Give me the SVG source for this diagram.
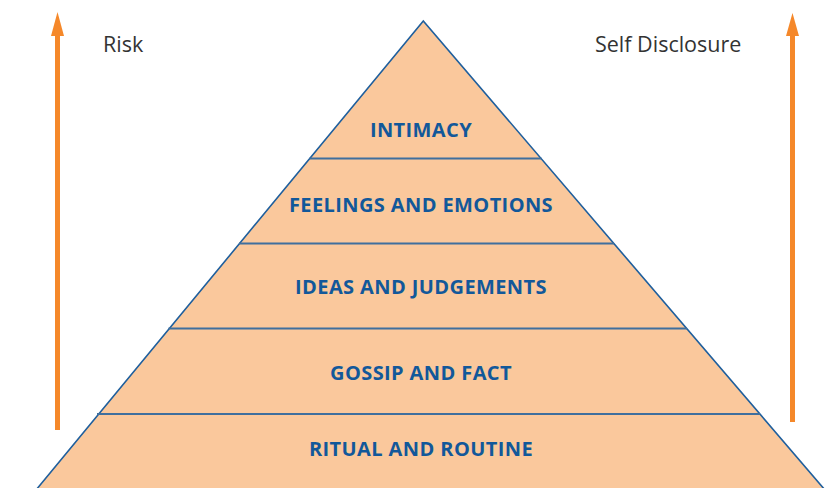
<svg xmlns="http://www.w3.org/2000/svg" width="835" height="488" viewBox="0 0 835 488">
  <style>
    .tier { fill: #fac89c; stroke: none; }
    .edge { fill: none; stroke: #1f5f9d; stroke-width: 1.6; }
    .divider { stroke: #3f6f9e; stroke-width: 2; }
    .label { font-family: "Open Sans", "Liberation Sans", sans-serif; font-weight: bold; font-size: 20px; letter-spacing: 0.4px; fill: #12589a; text-anchor: middle; }
    .side { font-family: "Open Sans", "Liberation Sans", sans-serif; font-size: 21.5px; fill: #333333; }
    .axis { stroke: #f5882a; stroke-width: 5; fill: none; }
    .tip { fill: #f5882a; }
  </style>

  <!-- pyramid body -->
  <g id="pyramid">
    <polygon class="tier" points="423.3,21 36,490 825,490"/>
    <polyline class="edge" points="36,490 423.3,21 825,490"/>
  </g>

  <!-- tier boundaries and the two rising axes -->
  <g id="connectors">
    <line class="divider" x1="309.5" y1="158.5" x2="541.5" y2="158.5"/>
    <line class="divider" x1="239" y1="243.5" x2="614" y2="243.5"/>
    <line class="divider" x1="168.5" y1="328.5" x2="687" y2="328.5"/>
    <line class="divider" x1="97" y1="414" x2="760" y2="414"/>
    <line class="axis" x1="57.5" y1="430" x2="57.5" y2="34"/>
    <line class="axis" x1="792.5" y1="422" x2="792.5" y2="34"/>
    <path class="tip" d="M57.5 12 L64 36 L51 36 Z"/>
    <path class="tip" d="M792.5 13 L799 36 L786 36 Z"/>
  </g>

  <g id="tier-intimacy"><text class="label" x="421" y="137">INTIMACY</text></g>
  <g id="tier-feelings"><text class="label" x="421" y="211.5">FEELINGS AND EMOTIONS</text></g>
  <g id="tier-ideas"><text class="label" x="421" y="294">IDEAS AND JUDGEMENTS</text></g>
  <g id="tier-gossip"><text class="label" x="421" y="380">GOSSIP AND FACT</text></g>
  <g id="tier-ritual"><text class="label" x="421" y="456">RITUAL AND ROUTINE</text></g>

  <g id="risk-label"><text class="side" x="103" y="51.5">Risk</text></g>
  <g id="disclosure-label"><text class="side" x="595" y="51.5">Self Disclosure</text></g>
</svg>
